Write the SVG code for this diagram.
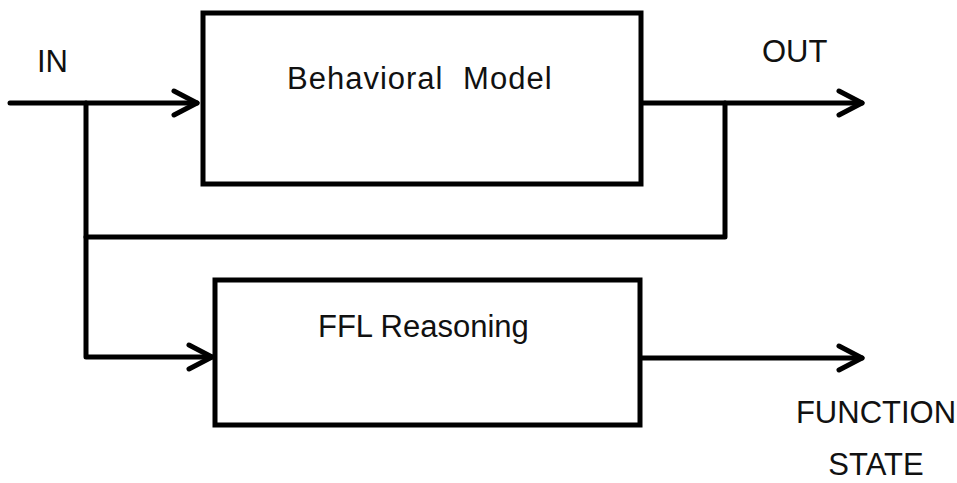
<svg xmlns="http://www.w3.org/2000/svg" width="957" height="483" viewBox="0 0 957 483">
<style>
.box{fill:#fff;stroke:#000;stroke-width:5;stroke-linejoin:miter}
.ln{fill:none;stroke:#000;stroke-width:5;stroke-linecap:round;stroke-linejoin:round}
text{font-family:"Liberation Sans",Arial,sans-serif;font-size:31px;fill:#111}
</style>
<defs>
<marker id="chev" viewBox="-12 -8 14 16" refX="0" refY="0" markerWidth="14" markerHeight="16" markerUnits="userSpaceOnUse" orient="auto" overflow="visible">
<path d="M-23,-12 L0,0 L-23,12" fill="none" stroke="#000" stroke-width="5" stroke-linecap="round" stroke-linejoin="round"/>
</marker>
</defs>
<rect width="957" height="483" fill="#fff"/>
<g id="connectors">
<path class="ln" d="M10,103 L197,103" marker-end="url(#chev)"/>
<path class="ln" d="M86,103 L86,357 L212,357" marker-end="url(#chev)"/>
<path class="ln" d="M86,237 L725,237 L725,103"/>
<path class="ln" d="M641,103 L862,103" marker-end="url(#chev)"/>
<path class="ln" d="M640,358 L862,358" marker-end="url(#chev)"/>
</g>
<g id="behavioral-model">
<rect class="box" x="203" y="13" width="438" height="171"/>
<text x="287" y="89" word-spacing="10" letter-spacing="1">Behavioral Model</text>
</g>
<g id="ffl-reasoning">
<rect class="box" x="215" y="280" width="425" height="145"/>
<text x="318" y="337">FFL Reasoning</text>
</g>
<g id="labels">
<text x="37" y="72">IN</text>
<text x="762" y="62">OUT</text>
<text x="876" y="423" text-anchor="middle">FUNCTION</text>
<text x="876" y="475" text-anchor="middle">STATE</text>
</g>
</svg>
